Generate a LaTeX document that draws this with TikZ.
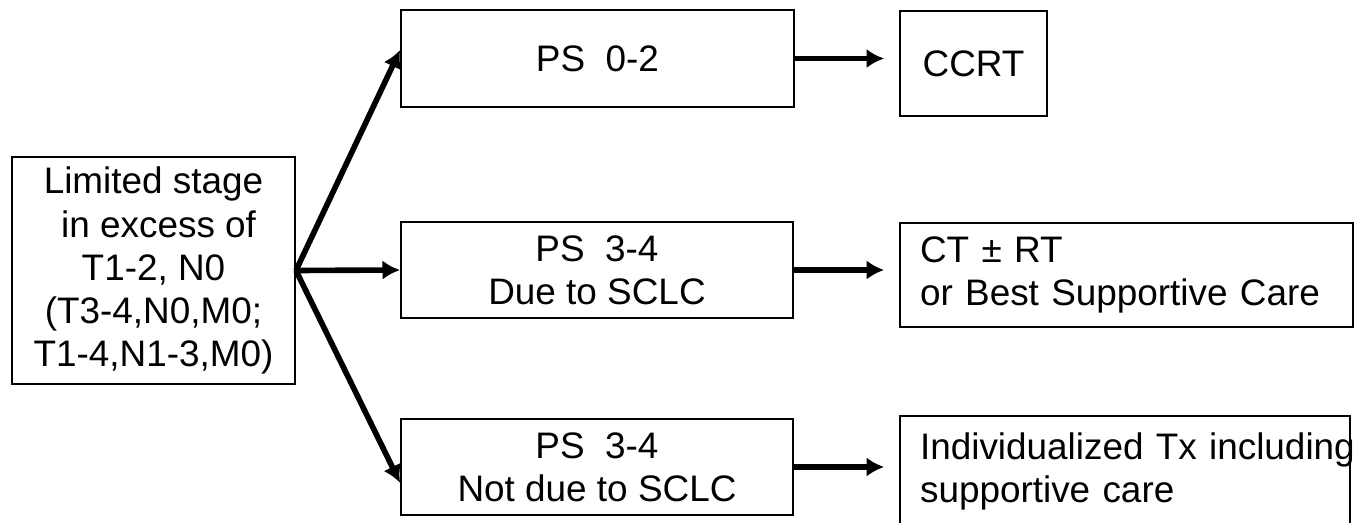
\documentclass[tikz,border=0pt]{standalone}
\usepackage{fontspec}
\setmainfont{Liberation Sans}
\usetikzlibrary{arrows.meta}
\tikzset{>={Latex[length=10pt,width=11pt]}}
\tikzset{
  box/.style={draw, line width=1.1pt, inner sep=0pt, align=center,
    font=\fontsize{21}{24.5}\selectfont},
  lbox/.style={box, align=left, inner xsep=0.4cm},
  go/.style={->, line width=3.2pt}
}

\begin{document}
\begin{tikzpicture}[x=0.02cm, y=-0.02cm]
    \useasboundingbox (0,0) rectangle (1354,523);
    % stage box
    \node[box, minimum width=5.66cm, minimum height=4.54cm] (stage) at (153.5,270.5)
        {Limited stage\\\ in excess of\\T1-2, N0\\(T3-4,N0,M0;\\T1-4,N1-3,M0)};
    % performance status
    \node[box, minimum width=7.86cm, minimum height=1.94cm] (ps02) at (597.5,58.5) {PS\ \ 0-2};
    \node[box, minimum width=7.84cm, minimum height=1.92cm] (ps34a) at (597,270) {PS\ \ 3-4\\Due to SCLC};
    \node[box, minimum width=7.84cm, minimum height=1.92cm] (ps34b) at (597,467) {PS\ \ 3-4\\Not due to SCLC};
    % treatment
    \node[box, minimum width=2.94cm, minimum height=2.1cm] (ccrt) at (973.5,63.5) {CCRT};
    \node[lbox, text width=8.26cm, minimum height=2.08cm] (ctrt) at (1126.5,275)
        {CT ± RT\\or Best Supportive Care};
    \node[lbox, text width=8.2cm, minimum height=2.2cm] (indiv) at (1125,471)
        {\mbox{Individualized Tx including}\\supportive care};
    % arrows
    \draw[go] (stage.east) -- ([yshift=4.8pt]ps02.west);
    \draw[go] (stage.east) -- (ps34a.west);
    \draw[go] (stage.east) -- ([yshift=-9pt]ps34b.west);
    \draw[go, shorten >=8.5pt] (ps02.east) -- (ps02.east -| ccrt.west);
    \draw[go, shorten >=8.5pt] (ps34a.east) -- (ps34a.east -| ctrt.west);
    \draw[go, shorten >=8.5pt] (ps34b.east) -- (ps34b.east -| indiv.west);
\end{tikzpicture}
\end{document}
